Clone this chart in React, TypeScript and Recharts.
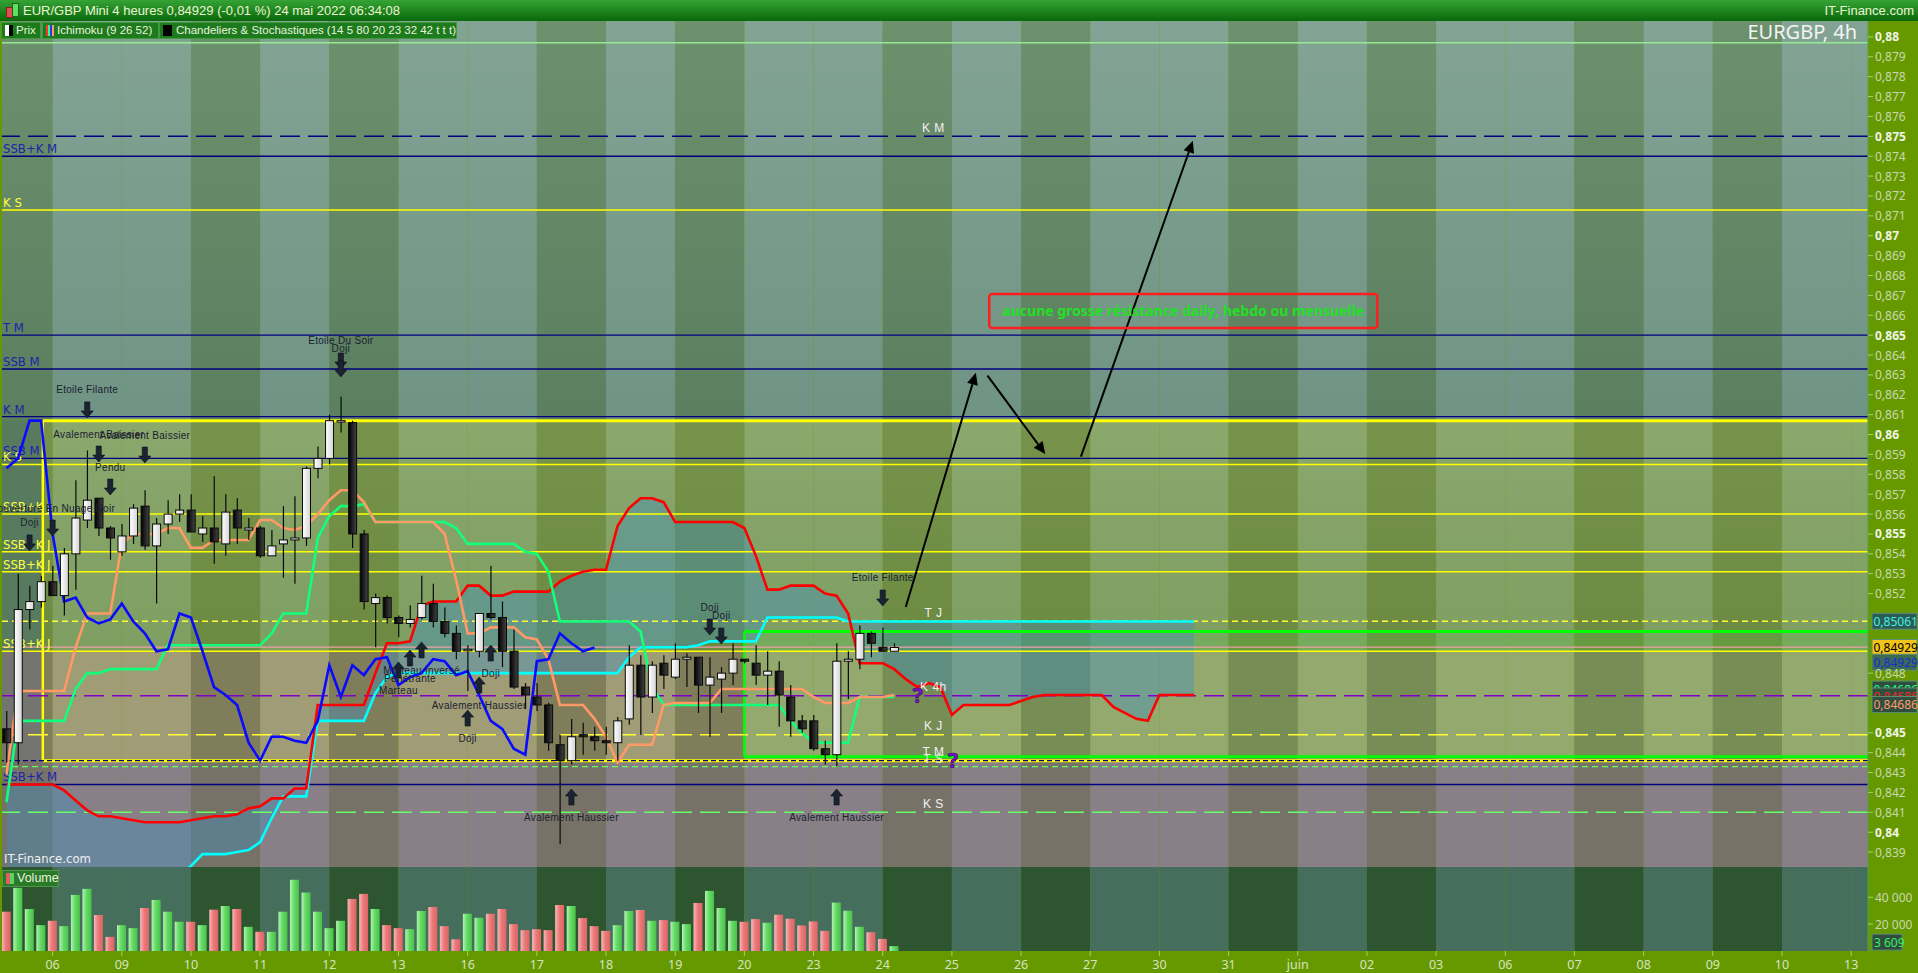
import React from 'react';
import {
  ComposedChart, Bar, Line, Area, XAxis, YAxis, ReferenceLine, ReferenceArea, ReferenceDot, Cell,
} from 'recharts';

// EUR/GBP 4h bars, bar 0 = 06 May 00:00, six bars per trading day
const firstBar = -4;

const opens = [
  0.8452, 0.8445, 0.8512, 0.8516, 0.8526, 0.8519, 0.8540, 0.8557, 0.8568, 0.8553,
  0.8541, 0.8549, 0.8564, 0.8544, 0.8555, 0.8560, 0.8562, 0.8550, 0.8553, 0.8545,
  0.8562, 0.8552, 0.8553, 0.8539, 0.8545, 0.8547, 0.8548, 0.8583, 0.8588, 0.8607,
  0.8606, 0.8550, 0.8515, 0.8518, 0.8508, 0.8505, 0.8508, 0.8515, 0.8506, 0.8500,
  0.8492, 0.8491, 0.8510, 0.8508, 0.8491, 0.8473, 0.8468, 0.8464, 0.8444, 0.8436,
  0.8449, 0.8448, 0.8446, 0.8445, 0.8457, 0.8484, 0.8468, 0.8485, 0.8478, 0.8487,
  0.8488, 0.8474, 0.8477, 0.8480, 0.8487, 0.8485, 0.8479, 0.8481, 0.8468, 0.8456,
  0.8456, 0.8442, 0.8439, 0.8486, 0.8487, 0.8500, 0.8493, 0.8491,
];
const highs = [
  0.8461, 0.8530, 0.8524, 0.8529, 0.8534, 0.8543, 0.8577, 0.8592, 0.8568, 0.8554,
  0.8555, 0.8565, 0.8572, 0.8558, 0.8567, 0.8570, 0.8570, 0.8559, 0.8579, 0.8570,
  0.8568, 0.8558, 0.8554, 0.8552, 0.8564, 0.8569, 0.8584, 0.8594, 0.8610, 0.8619,
  0.8607, 0.8552, 0.8520, 0.8519, 0.8509, 0.8514, 0.8529, 0.8525, 0.8513, 0.8504,
  0.8494, 0.8510, 0.8534, 0.8516, 0.8502, 0.8475, 0.8475, 0.8465, 0.8449, 0.8457,
  0.8455, 0.8453, 0.8453, 0.8458, 0.8494, 0.8489, 0.8486, 0.8489, 0.8495, 0.8490,
  0.8488, 0.8488, 0.8483, 0.8495, 0.8487, 0.8494, 0.8491, 0.8486, 0.8474, 0.8459,
  0.8459, 0.8446, 0.8495, 0.8491, 0.8504, 0.8501, 0.8503, 0.8495,
];
const lows = [
  0.8435, 0.8434, 0.8502, 0.8513, 0.8519, 0.8509, 0.8522, 0.8553, 0.8549, 0.8537,
  0.8539, 0.8545, 0.8542, 0.8515, 0.8550, 0.8556, 0.8551, 0.8546, 0.8535, 0.8539,
  0.8545, 0.8547, 0.8538, 0.8539, 0.8528, 0.8525, 0.8544, 0.8578, 0.8585, 0.8601,
  0.8543, 0.8512, 0.8493, 0.8505, 0.8498, 0.8503, 0.8507, 0.8503, 0.8498, 0.8487,
  0.8471, 0.8488, 0.8507, 0.8483, 0.8472, 0.8462, 0.8461, 0.8441, 0.8394, 0.8434,
  0.8439, 0.8441, 0.8439, 0.8436, 0.8454, 0.8449, 0.8460, 0.8472, 0.8477, 0.8473,
  0.8460, 0.8448, 0.8460, 0.8474, 0.8485, 0.8474, 0.8464, 0.8453, 0.8448, 0.8450,
  0.8441, 0.8434, 0.8433, 0.8467, 0.8482, 0.8488, 0.8491, 0.8491,
];
const closes = [
  0.8445, 0.8512, 0.8516, 0.8526, 0.8519, 0.8540, 0.8558, 0.8567, 0.8553, 0.8548,
  0.8549, 0.8563, 0.8544, 0.8555, 0.8560, 0.8562, 0.8551, 0.8553, 0.8546, 0.8561,
  0.8553, 0.8553, 0.8539, 0.8544, 0.8547, 0.8548, 0.8583, 0.8588, 0.8607, 0.8607,
  0.8550, 0.8516, 0.8518, 0.8508, 0.8505, 0.8507, 0.8515, 0.8506, 0.8500, 0.8491,
  0.8492, 0.8510, 0.8508, 0.8491, 0.8473, 0.8469, 0.8464, 0.8445, 0.8436, 0.8448,
  0.8448, 0.8446, 0.8445, 0.8456, 0.8484, 0.8468, 0.8484, 0.8479, 0.8487, 0.8488,
  0.8474, 0.8478, 0.8480, 0.8487, 0.8486, 0.8479, 0.8481, 0.8469, 0.8456, 0.8452,
  0.8442, 0.8439, 0.8486, 0.8487, 0.8500, 0.8495, 0.8491, 0.84929,
];
const volumes = [
  29250, 47000, 31250, 19250, 22500, 18500, 41750, 46250, 26750, 10500,
  19250, 17000, 32000, 38000, 29250, 21750, 21750, 19250, 30750, 33500,
  31250, 18000, 14250, 14250, 29250, 53000, 43500, 29250, 17000, 22500,
  38750, 42500, 31250, 19250, 17000, 16250, 29750, 32750, 18500, 8750,
  27750, 24750, 27750, 31250, 20000, 15500, 16250, 15500, 34250, 33500,
  24500, 18500, 15000, 19250, 29750, 30500, 22500, 23000, 21750, 20000,
  35750, 44750, 32000, 22500, 21750, 23750, 21000, 27000, 24000, 19000,
  22000, 15000, 36000, 30000, 18000, 14000, 9000, 3609,
];
const tenkan = [
  0.8429, 0.8471, 0.8471, 0.8471, 0.8471, 0.8471, 0.8493, 0.8510, 0.8510, 0.8510,
  0.8545, 0.8550, 0.8550, 0.8550, 0.8553, 0.8553, 0.8543, 0.8543, 0.8547, 0.8547,
  0.8547, 0.8547, 0.8557, 0.8557, 0.8553, 0.8552, 0.8554, 0.8560, 0.8567, 0.8572,
  0.8572, 0.8566, 0.8556, 0.8556, 0.8556, 0.8556, 0.8556, 0.8556, 0.8550, 0.8527,
  0.8500, 0.8500, 0.8503, 0.8503, 0.8503, 0.8498, 0.8497, 0.8487, 0.8464, 0.8464,
  0.8464, 0.8457, 0.8448, 0.8435, 0.8444, 0.8444, 0.8444, 0.8464, 0.8465, 0.8465,
  0.8465, 0.8465, 0.8472, 0.8472, 0.8472, 0.8472, 0.8472, 0.8472, 0.8472, 0.8472,
  0.8468, 0.8465, 0.8465, 0.8465, 0.8468, 0.8468, 0.8468, 0.8469,
];
const kijun = [
  0.8415, 0.8456, 0.8456, 0.8456, 0.8456, 0.8456, 0.8472, 0.8480, 0.8480, 0.8482,
  0.8482, 0.8482, 0.8482, 0.8482, 0.8494, 0.8494, 0.8494, 0.8494, 0.8494, 0.8494,
  0.8494, 0.8494, 0.8494, 0.8500, 0.8510, 0.8510, 0.8510, 0.8548, 0.8559, 0.8564,
  0.8564, 0.8565, 0.8556, 0.8556, 0.8556, 0.8556, 0.8556, 0.8556, 0.8556, 0.8553,
  0.8545, 0.8545, 0.8545, 0.8545, 0.8545, 0.8541, 0.8540, 0.8531, 0.8506, 0.8506,
  0.8506, 0.8506, 0.8506, 0.8506, 0.8506, 0.8501, 0.8473, 0.8464, 0.8464, 0.8464,
  0.8464, 0.8464, 0.8464, 0.8464, 0.8464, 0.8464, 0.8464, 0.8464, 0.8456, 0.8450,
  0.8445, 0.8445, 0.8445, 0.8445, 0.8468, 0.8468, 0.8468, 0.8468,
];
// lagging line, drawn from bar -4 to bar 47
const chikou = [
  0.8583, 0.8588, 0.8607, 0.8607, 0.8550, 0.8516, 0.8518, 0.8508, 0.8505, 0.8507,
  0.8515, 0.8506, 0.8500, 0.8491, 0.8492, 0.8510, 0.8508, 0.8491, 0.8473, 0.8469,
  0.8464, 0.8445, 0.8436, 0.8448, 0.8448, 0.8446, 0.8445, 0.8456, 0.8484, 0.8468,
  0.8484, 0.8479, 0.8487, 0.8488, 0.8474, 0.8478, 0.8480, 0.8487, 0.8486, 0.8479,
  0.8481, 0.8469, 0.8456, 0.8452, 0.8442, 0.8439, 0.8486, 0.8487, 0.8500, 0.8495,
  0.8491, 0.84929,
];
// cloud spans, bar -4 to bar 99
const ssa = [
  0.8372, 0.8372, 0.8372, 0.8372, 0.8372, 0.8372, 0.8372, 0.8372, 0.8372, 0.8372,
  0.8372, 0.8372, 0.8372, 0.8372, 0.8372, 0.8378, 0.8383, 0.8389, 0.8389, 0.8389,
  0.8390, 0.8391, 0.8395, 0.8407, 0.8418, 0.8418, 0.8418, 0.8456, 0.8456, 0.8456,
  0.8456, 0.8456, 0.8470, 0.8478, 0.8480, 0.8480, 0.8480, 0.8480, 0.8480, 0.8480,
  0.8480, 0.8480, 0.8480, 0.8480, 0.8480, 0.8480, 0.8480, 0.8480, 0.8480, 0.8480,
  0.8480, 0.8480, 0.8480, 0.8480, 0.8488, 0.8493, 0.8493, 0.8493, 0.8493, 0.8493,
  0.8494, 0.8496, 0.8496, 0.8496, 0.8496, 0.8496, 0.8508, 0.8508, 0.8508, 0.8508,
  0.8508, 0.8508, 0.8508, 0.8506, 0.8506, 0.8506, 0.8506, 0.8506, 0.8506, 0.8506,
  0.8506, 0.8506, 0.8506, 0.8506, 0.8506, 0.8506, 0.8506, 0.8506, 0.8506, 0.8506,
  0.8506, 0.8506, 0.8506, 0.8506, 0.8506, 0.8506, 0.8506, 0.8506, 0.8506, 0.8506,
  0.8506, 0.8506, 0.8506, 0.8506,
];
const ssb = [
  0.8424, 0.8424, 0.8424, 0.8424, 0.8424, 0.8421, 0.8416, 0.8411, 0.8408, 0.8408,
  0.8407, 0.8406, 0.8405, 0.8405, 0.8405, 0.8405, 0.8406, 0.8407, 0.8408, 0.8408,
  0.8409, 0.8412, 0.8413, 0.8417, 0.8417, 0.8422, 0.8422, 0.8464, 0.8464, 0.8464,
  0.8464, 0.8464, 0.8480, 0.8495, 0.8495, 0.8496, 0.8514, 0.8516, 0.8516, 0.8516,
  0.8524, 0.8524, 0.8519, 0.8519, 0.8521, 0.8521, 0.8521, 0.8521, 0.8526, 0.8529,
  0.8531, 0.8532, 0.8532, 0.8554, 0.8563, 0.8568, 0.8568, 0.8566, 0.8556, 0.8556,
  0.8556, 0.8556, 0.8556, 0.8556, 0.8553, 0.8539, 0.8522, 0.8522, 0.8524, 0.8524,
  0.8524, 0.8520, 0.8519, 0.8510, 0.8485, 0.8485, 0.8485, 0.8482, 0.8477, 0.8473,
  0.8475, 0.8473, 0.8459, 0.8464, 0.8464, 0.8464, 0.8464, 0.8464, 0.8466, 0.8468,
  0.8469, 0.8469, 0.8469, 0.8469, 0.8469, 0.8469, 0.8463, 0.8460, 0.8457, 0.8456,
  0.8469, 0.8469, 0.8469, 0.8469,
];

const dayLabels = ['06', '09', '10', '11', '12', '13', '16', '17', '18', '19', '20', '23', '24', '25',
  '26', '27', '30', '31', 'juin', '02', '03', '06', '07', '08', '09', '10', '13'];
// stripe shade per day starting with 05 May (L = light, D = dark)
const dayShade = ['D', 'L', 'L', 'D', 'L', 'D', 'L', 'L', 'D', 'L', 'D', 'L', 'L', 'D', 'L', 'D',
  'L', 'L', 'D', 'L', 'D', 'L', 'L', 'D', 'L', 'D', 'L', 'L'];
const priceTicks = [0.88, 0.879, 0.878, 0.877, 0.876, 0.875, 0.874, 0.873, 0.872, 0.871, 0.87,
  0.869, 0.868, 0.867, 0.866, 0.865, 0.864, 0.863, 0.862, 0.861, 0.86, 0.859, 0.858, 0.857,
  0.856, 0.855, 0.854, 0.853, 0.852, 0.848, 0.845, 0.844, 0.843, 0.842, 0.841, 0.84, 0.839];

const levels = [
  { p: 0.8797, kind: 'top' },
  { p: 0.875, kind: 'navyDash', mid: 'K M' },
  { p: 0.874, kind: 'navy', left: 'SSB+K M' },
  { p: 0.8713, kind: 'yellow', left: 'K S' },
  { p: 0.865, kind: 'navy', left: 'T M' },
  { p: 0.8633, kind: 'navy', left: 'SSB M' },
  { p: 0.8609, kind: 'navy', left: 'K M' },
  { p: 0.8588, kind: 'navy', left: 'SSB M' },
  { p: 0.8585, kind: 'yellow', left: 'K S' },
  { p: 0.856, kind: 'yellow', left: 'SSB+K J' },
  { p: 0.8541, kind: 'yellow', left: 'SSB+K J' },
  { p: 0.8531, kind: 'yellow', left: 'SSB+K J' },
  { p: 0.85061, kind: 'yellowDot', mid: 'T J' },
  { p: 0.84931, kind: 'pink' },
  { p: 0.8491, kind: 'yellow', left: 'SSB+K J' },
  { p: 0.84686, kind: 'purpleDash', mid: 'K 4h' },
  { p: 0.8449, kind: 'yellowDash', mid: 'K J' },
  { p: 0.8436, kind: 'navyDot', mid: 'T M' },
  { p: 0.8433, kind: 'greenDot' },
  { p: 0.8424, kind: 'navy', left: 'SSB+K M' },
  { p: 0.841, kind: 'greenDash', mid: 'K S' },
];

const patterns = [
  { n: 3, p: 0.86124, dir: 'down', text: 'Etoile Filante' },
  { n: 4, p: 0.85902, dir: 'down', text: 'Avalement Baissier' },
  { n: 8, p: 0.85897, dir: 'down', text: 'Avalement Baissier' },
  { n: 5, p: 0.85736, dir: 'down', text: 'Pendu' },
  { n: 0, p: 0.8553, dir: 'down', text: 'Couverture En Nuage Noir' },
  { n: -2, p: 0.85455, dir: 'down', text: 'Doji' },
  { n: 25, p: 0.8637, dir: 'down', text: 'Etoile Du Soir' },
  { n: 25, p: 0.8633, dir: 'down', text: 'Doji' },
  { n: 57, p: 0.85032, dir: 'down', text: 'Doji' },
  { n: 58, p: 0.84987, dir: 'down', text: 'Doji' },
  { n: 72, p: 0.85178, dir: 'down', text: 'Etoile Filante' },
  { n: 30, p: 0.84816, dir: 'up', text: 'Marteau' },
  { n: 31, p: 0.84876, dir: 'up', text: 'Pénétrante' },
  { n: 32, p: 0.84917, dir: 'up', text: 'Marteau Inversé' },
  { n: 36, p: 0.84574, dir: 'up', text: 'Doji' },
  { n: 37, p: 0.8474, dir: 'up', text: 'Avalement Haussier' },
  { n: 38, p: 0.84901, dir: 'up', text: 'Doji' },
  { n: 45, p: 0.84177, dir: 'up', text: 'Avalement Haussier' },
  { n: 68, p: 0.84177, dir: 'up', text: 'Avalement Haussier' },
];

const trendArrows = [
  { x1: 74.0, y1: 0.85133, x2: 80.08, y2: 0.86311 },
  { x1: 81.09, y1: 0.86296, x2: 86.1, y2: 0.85902 },
  { x1: 89.19, y1: 0.85889, x2: 98.9, y2: 0.87478 },
];
const questionMarks = [
  { n: 75.03, p: 0.8469 },
  { n: 78.1, p: 0.84363 },
];
const tags = [
  { p: 0.85061, text: '0,85061', color: '#3ff0e0', bg: '#2b5d55' },
  { p: 0.84929, text: '0,84929', color: '#000000', bg: '#f2c318' },
  { p: 0.84855, text: '0,84929', color: '#1a2ad8', bg: '#3b6a52' },
  { p: 0.8472, text: '0,84686', color: '#22ff88', bg: '#2e4e40' },
  { p: 0.84685, text: '0,84686', color: '#ff2020', bg: '#2e4e40' },
  { p: 0.84642, text: '0,84686', color: '#ff9966', bg: '#2e4e40' },
];

// layout
const X_MIN = -4.39;
const X_MAX = 157.46;
const P_MIN = 0.83825;
const P_MAX = 0.8808;
const BOX_LEFT = -0.85;
const BOX_TOP = 0.8607;
const BOX_BOTTOM = 0.8436;
const TAN_TOP = 0.8491;
const GREEN_LEFT = 60;
const GREEN_TOP = 0.8501;
const GREEN_BOTTOM = 0.8438;
const MID_N = 76.4;

const NARROW = "'Liberation Sans Narrow', 'DejaVu Sans Condensed', 'Liberation Sans', sans-serif";
const SANS = "'Noto Sans', 'Open Sans', sans-serif";
const ARIAL = "'Liberation Sans', Arial, sans-serif";

const levelStyle: any = {
  top: { stroke: '#93ec8f', w: 1.5 },
  navy: { stroke: '#00007f', w: 1.4 },
  navyDash: { stroke: '#00007f', w: 1.4, dash: '20 8' },
  navyDot: { stroke: '#00007f', w: 1.4, dash: '5 3' },
  yellow: { stroke: '#ffff00', w: 1.5 },
  yellowDot: { stroke: '#ffff33', w: 1.4, dash: '6 4' },
  yellowDash: { stroke: '#ffff33', w: 1.4, dash: '20 8' },
  pink: { stroke: '#f0a0a8', w: 1.3 },
  purpleDash: { stroke: '#8000c8', w: 1.6, dash: '20 8' },
  greenDot: { stroke: '#66ff66', w: 1.3, dash: '6 4' },
  greenDash: { stroke: '#66ff66', w: 1.4, dash: '20 8' },
};

const rows = ssa.map((a, i) => {
  const row: any = { n: firstBar + i, ssa: a, ssb: ssb[i] };
  if (i < opens.length) {
    row.o = opens[i]; row.h = highs[i]; row.l = lows[i]; row.c = closes[i];
    row.tenkan = tenkan[i]; row.kijun = kijun[i];
  }
  if (i < chikou.length) row.chikou = chikou[i];
  return row;
});
const volRows = volumes.map((v, i) => ({ n: firstBar + i, v, up: closes[i] >= opens[i] }));
const dayTicks = dayLabels.map((_, i) => i * 6);

function Candle(props: any) {
  const { x, y, width, height, payload } = props;
  if (!payload || payload.h == null || !isFinite(y) || !isFinite(height)) return <g />;
  const top = Math.min(y, y + height);
  const bot = Math.max(y, y + height);
  const span = payload.h - payload.l || 1e-9;
  const py = (v: number) => top + ((payload.h - v) / span) * (bot - top);
  const up = payload.c >= payload.o;
  const bTop = py(Math.max(payload.o, payload.c));
  const bBot = py(Math.min(payload.o, payload.c));
  const cx = x + width / 2;
  return (
    <g>
      <line x1={cx} x2={cx} y1={top} y2={bot} stroke="#0a0a0a" strokeWidth={1.2} />
      <rect x={x} y={bTop} width={width} height={Math.max(bBot - bTop, 1.5)}
        fill={up ? 'url(#candleUp)' : 'url(#candleDown)'} stroke="#0a0a0a" strokeWidth={1} />
    </g>
  );
}

function PatternMark(props: any) {
  const { cx, cy, dir, text } = props;
  if (!isFinite(cx) || !isFinite(cy)) return <g />;
  const s = dir === 'down' ? 1 : -1;
  const pts = [
    [cx - 2.6, cy - 8 * s], [cx + 2.6, cy - 8 * s], [cx + 2.6, cy + 1 * s], [cx + 6, cy + 1 * s],
    [cx, cy + 8 * s], [cx - 6, cy + 1 * s], [cx - 2.6, cy + 1 * s],
  ].map((q) => q.join(',')).join(' ');
  const ty = dir === 'down' ? cy - 16.5 : cy + 24;
  return (
    <g>
      <polygon points={pts} fill="#1b2331" stroke="#0c121c" strokeWidth={0.6} />
      <text x={cx} y={ty} textAnchor="middle" fill="#1b2130" fontSize={10} letterSpacing={0.3}
        fontFamily={ARIAL}>{text}</text>
    </g>
  );
}

function ArrowShape(p: any) {
  const { x1, y1, x2, y2 } = p;
  if (![x1, y1, x2, y2].every((v) => isFinite(v))) return <g />;
  const ang = Math.atan2(y2 - y1, x2 - x1);
  const L = 12;
  const W = 5.5;
  const bx = x2 - L * Math.cos(ang);
  const by = y2 - L * Math.sin(ang);
  const px = -Math.sin(ang) * W;
  const py = Math.cos(ang) * W;
  return (
    <g>
      <line x1={x1} y1={y1} x2={bx} y2={by} stroke="#000" strokeWidth={2} />
      <polygon points={`${x2},${y2} ${bx + px},${by + py} ${bx - px},${by - py}`} fill="#000" />
    </g>
  );
}

function PriceTick(props: any) {
  const { x, y, payload } = props;
  const v = payload.value as number;
  const major = Math.round(v * 1000) % 5 === 0;
  const txt = v.toFixed(3).replace(/0+$/, '').replace('.', ',');
  return (
    <text x={x} y={y + 4.5} textAnchor="start" fill={major ? '#f1f4e8' : '#c9d8b2'} fontSize={12}
      fontWeight={major ? 700 : 400} fontFamily={SANS}>{txt}</text>
  );
}

function VolTick(props: any) {
  const { x, y, payload } = props;
  return (
    <text x={x} y={y + 4.5} textAnchor="start" fill="#c9d8b2" fontSize={12} fontFamily={SANS}>
      {String(payload.value).replace(/(\d)(\d{3})$/, '$1 $2')}
    </text>
  );
}

function DayTick(props: any) {
  const { x, y, payload } = props;
  return (
    <text x={x} y={y + 11} textAnchor="middle" fill="#d6e2c2" fontSize={12.5} fontFamily={SANS}>
      {dayLabels[Math.round(payload.value / 6)]}
    </text>
  );
}

const tagLabel = (text: string, color: string, bg: string) => (props: any) => {
  const vb = props.viewBox;
  if (!vb) return null;
  const x = vb.x + vb.width + 4;
  return (
    <g>
      <rect x={x} y={vb.y - 8} width={45} height={16} fill={bg} stroke="#5f8f72" strokeWidth={1} />
      <text x={x + 1.5} y={vb.y + 4.5} fill={color} fontSize={12} fontFamily={SANS}>{text}</text>
    </g>
  );
};

const leftLabel = (text: string, color: string) => (props: any) => {
  const vb = props.viewBox;
  if (!vb) return null;
  return (
    <text x={vb.x + 1} y={vb.y - 3} fill={color} fontSize={13} fontFamily={NARROW}>{text}</text>
  );
};

function band(key: string, x1: number, x2: number, y1: number | undefined, y2: number | undefined, fill: string) {
  return (
    <ReferenceArea key={key} x1={x1} x2={x2} y1={y1} y2={y2} fill={fill} fillOpacity={1}
      stroke="none" ifOverflow="hidden" zIndex={-300} />
  );
}

export default function App() {
  const stripes: any[] = [];
  dayShade.forEach((shade, i) => {
    const d = i - 1;
    const x1 = Math.max(d * 6, X_MIN);
    const x2 = Math.min(d * 6 + 6, X_MAX);
    const L = shade === 'L';
    stripes.push(band(`a${i}`, x1, x2, BOX_TOP, P_MAX, L ? 'url(#aLight)' : 'url(#aDark)'));
    if (d === -1) {
      stripes.push(band(`lb${i}`, x1, BOX_LEFT, TAN_TOP, BOX_TOP, '#587b5f'));
      stripes.push(band(`lc${i}`, x1, BOX_LEFT, BOX_BOTTOM, TAN_TOP, '#747471'));
      stripes.push(band(`b${i}`, BOX_LEFT, x2, TAN_TOP, BOX_TOP, 'url(#bDark)'));
      stripes.push(band(`c${i}`, BOX_LEFT, x2, BOX_BOTTOM, TAN_TOP, '#7f7d5a'));
    } else {
      stripes.push(band(`b${i}`, x1, x2, TAN_TOP, BOX_TOP, L ? 'url(#bLight)' : 'url(#bDark)'));
      stripes.push(band(`c${i}`, x1, x2, BOX_BOTTOM, TAN_TOP, L ? '#a09d76' : '#7f7d5a'));
    }
    stripes.push(band(`d${i}`, x1, x2, P_MIN, BOX_BOTTOM, L ? '#888086' : '#767268'));
  });

  const volStripes = dayShade.map((shade, i) => {
    const d = i - 1;
    return (
      <ReferenceArea key={`v${i}`} x1={Math.max(d * 6, X_MIN)} x2={Math.min(d * 6 + 6, X_MAX)}
        fill={shade === 'L' ? '#466e5c' : '#2d5530'} fillOpacity={1} stroke="none"
        ifOverflow="hidden" zIndex={-300} />
    );
  });

  const seg = (key: string, a: [number, number], b: [number, number], stroke: string, w: number) => (
    <ReferenceLine key={key} segment={[{ x: a[0], y: a[1] }, { x: b[0], y: b[1] }]} stroke={stroke}
      strokeWidth={w} ifOverflow="hidden" zIndex={-210} />
  );

  return (
    <div style={{ position: 'absolute', left: 0, top: 0, width: 1918, height: 973, background: '#669900', overflow: 'hidden' }}>
      {/* title bar */}
      <div style={{
        position: 'absolute', left: 0, top: 0, width: 1918, height: 21,
        background: 'linear-gradient(#35a335, #0a680a)', color: '#eaf5d2', fontFamily: ARIAL,
        fontSize: 13, lineHeight: '21px',
      }}>
        <div style={{ position: 'absolute', left: 6, top: 7, width: 5, height: 9, background: '#e05050', border: '1px solid #802020' }} />
        <div style={{ position: 'absolute', left: 12, top: 3, width: 5, height: 12, background: '#60e060', border: '1px solid #206020' }} />
        <span style={{ position: 'absolute', left: 23 }}>EUR/GBP Mini 4 heures 0,84929 (-0,01 %) 24 mai 2022 06:34:08</span>
        <span style={{ position: 'absolute', right: 4 }}>IT-Finance.com</span>
      </div>

      <div style={{ position: 'absolute', left: 0, top: 21 }}>
        <ComposedChart width={1918} height={846} data={rows} margin={{ top: 0, right: 0, bottom: 0, left: 2 }}>
          <defs>
            <linearGradient id="aLight" x1="0" y1="0" x2="0" y2="1">
              <stop offset="0%" stopColor="#83a495" />
              <stop offset="100%" stopColor="#6f9384" />
            </linearGradient>
            <linearGradient id="aDark" x1="0" y1="0" x2="0" y2="1">
              <stop offset="0%" stopColor="#6d906d" />
              <stop offset="100%" stopColor="#5b7f5f" />
            </linearGradient>
            <linearGradient id="bLight" x1="0" y1="0" x2="0" y2="1">
              <stop offset="0%" stopColor="#8ba86d" />
              <stop offset="100%" stopColor="#7e9e62" />
            </linearGradient>
            <linearGradient id="bDark" x1="0" y1="0" x2="0" y2="1">
              <stop offset="0%" stopColor="#77934b" />
              <stop offset="100%" stopColor="#6c8a41" />
            </linearGradient>
            <linearGradient id="candleUp" x1="0" y1="0" x2="1" y2="0">
              <stop offset="0%" stopColor="#ffffff" />
              <stop offset="100%" stopColor="#d4d4d4" />
            </linearGradient>
            <linearGradient id="candleDown" x1="0" y1="0" x2="1" y2="0">
              <stop offset="0%" stopColor="#000000" />
              <stop offset="100%" stopColor="#444444" />
            </linearGradient>
          </defs>
          <XAxis dataKey="n" type="number" domain={[X_MIN, X_MAX]} allowDataOverflow hide />
          <YAxis orientation="right" width={50} type="number" domain={[P_MIN, P_MAX]} allowDataOverflow
            ticks={priceTicks} interval={0} tick={<PriceTick />} tickSize={5}
            tickLine={{ stroke: '#9fd36a' }} axisLine={{ stroke: '#4fa34f' }} />

          {stripes}

          <ReferenceArea x1={GREEN_LEFT} x2={X_MAX} y1={GREEN_BOTTOM} y2={GREEN_TOP} fill="#3cff3c"
            fillOpacity={0.13} stroke="none" ifOverflow="hidden" zIndex={-260} />

          <Area dataKey={(r: any) => [r.ssa, r.ssb]} type="linear" fill="#3f8fc0" fillOpacity={0.4}
            stroke="none" isAnimationActive={false} activeDot={false} zIndex={-250} />

          {seg('yt', [BOX_LEFT, BOX_TOP], [X_MAX, BOX_TOP], '#ffff00', 3)}
          {seg('yb', [BOX_LEFT, BOX_BOTTOM], [X_MAX, BOX_BOTTOM], '#ffff00', 3)}
          {seg('yl', [BOX_LEFT, BOX_BOTTOM], [BOX_LEFT, BOX_TOP], '#ffff00', 2.5)}
          {seg('gt', [GREEN_LEFT, GREEN_TOP], [X_MAX, GREEN_TOP], '#00ff00', 3)}
          {seg('gb', [GREEN_LEFT, GREEN_BOTTOM], [X_MAX, GREEN_BOTTOM], '#00ff00', 3)}
          {seg('gl', [GREEN_LEFT, GREEN_BOTTOM], [GREEN_LEFT, GREEN_TOP], '#00ff00', 2.5)}

          {levels.map((lv, i) => {
            const st = levelStyle[lv.kind];
            const col = lv.kind.startsWith('navy') ? '#1a24a8' : '#ffff40';
            return (
              <ReferenceLine key={`lv${i}`} y={lv.p} stroke={st.stroke} strokeWidth={st.w}
                strokeDasharray={st.dash} ifOverflow="hidden" zIndex={-200}
                label={lv.left ? leftLabel(lv.left, col) : undefined} />
            );
          })}

          <Line dataKey="ssa" type="linear" stroke="#00ffff" strokeWidth={2.6} dot={false} activeDot={false} isAnimationActive={false} zIndex={400} />
          <Line dataKey="ssb" type="linear" stroke="#ff0000" strokeWidth={2.6} dot={false} activeDot={false} isAnimationActive={false} zIndex={400} />
          <Line dataKey="kijun" type="linear" stroke="#11ff7a" strokeWidth={2.6} dot={false} activeDot={false} isAnimationActive={false} zIndex={400} />
          <Line dataKey="tenkan" type="linear" stroke="#ff9966" strokeWidth={2.6} dot={false} activeDot={false} isAnimationActive={false} zIndex={400} />
          <Line dataKey="chikou" type="linear" stroke="#0a0aff" strokeWidth={2.6} dot={false} activeDot={false} isAnimationActive={false} zIndex={400} />

          <Bar dataKey={(r: any) => (r.h == null ? null : [r.l, r.h])} barSize={8}
            shape={(p: any) => <Candle {...p} />} isAnimationActive={false} zIndex={450} />

          {patterns.map((pt, i) => (
            <ReferenceDot key={`pt${i}`} x={pt.n} y={pt.p} r={1} ifOverflow="visible" zIndex={600}
              shape={(p: any) => <PatternMark cx={p.cx} cy={p.cy} dir={pt.dir} text={pt.text} />} />
          ))}

          {levels.filter((lv) => lv.mid).map((lv, i) => (
            <ReferenceDot key={`mid${i}`} x={MID_N} y={lv.p} r={1} ifOverflow="visible" zIndex={650}
              shape={(p: any) => (
                <text x={p.cx} y={p.cy - 4.5} textAnchor="middle" fill="#f2f2f2" fontSize={12}
                  letterSpacing={0.5} fontFamily={ARIAL}>{lv.mid}</text>
              )} />
          ))}
          <ReferenceDot x={MID_N} y={BOX_BOTTOM} r={1} ifOverflow="visible" zIndex={650}
            shape={(p: any) => (
              <text x={p.cx} y={p.cy + 2} textAnchor="middle" fill="#e8e8e8" fontSize={12}
                letterSpacing={0.5} fontFamily={ARIAL}>T S</text>
            )} />
          {questionMarks.map((q, i) => (
            <ReferenceDot key={`q${i}`} x={q.n} y={q.p} r={1} ifOverflow="visible" zIndex={660}
              shape={(p: any) => (
                <text x={p.cx} y={p.cy + 8} textAnchor="middle" fill="#7a14c8" stroke="#3a0a60"
                  strokeWidth={0.6} fontSize={22} fontWeight={700} fontFamily={SANS}>?</text>
              )} />
          ))}

          {trendArrows.map((a, i) => (
            <ReferenceLine key={`ar${i}`} segment={[{ x: a.x1, y: a.y1 }, { x: a.x2, y: a.y2 }]}
              ifOverflow="visible" zIndex={700} shape={(p: any) => <ArrowShape {...p} />} />
          ))}

          <ReferenceArea x1={81.24} x2={114.9} y1={0.86536} y2={0.86707} fill="#000" fillOpacity={0}
            stroke="#ff1e1e" strokeWidth={2.5} radius={3} ifOverflow="visible" zIndex={700}
            label={(props: any) => {
              const vb = props.viewBox;
              if (!vb) return null;
              return (
                <text x={vb.x + vb.width / 2} y={vb.y + vb.height / 2 + 5} textAnchor="middle"
                  fill="#22e022" fontSize={14} fontWeight={700} fontFamily={SANS}>
                  aucune grosse résistance daily, hebdo ou mensuelle
                </text>
              );
            }} />

          {tags.map((t, i) => (
            <ReferenceLine key={`tag${i}`} y={t.p} stroke="none" zIndex={900}
              label={tagLabel(t.text, t.color, t.bg)} />
          ))}
        </ComposedChart>
      </div>

      {/* legend row */}
      <div style={{ position: 'absolute', left: 1, top: 22, width: 40, height: 17, background: '#1d7a1d', border: '1px solid #3e9c3e', boxSizing: 'border-box', color: '#e9f3dd', fontFamily: ARIAL, fontSize: 11.5, lineHeight: '15px' }}>
        <div style={{ position: 'absolute', left: 3, top: 2, width: 4, height: 11, background: '#ffffff' }} />
        <div style={{ position: 'absolute', left: 7, top: 2, width: 4, height: 11, background: '#000000' }} />
        <span style={{ position: 'absolute', left: 14 }}>Prix</span>
      </div>
      <div style={{ position: 'absolute', left: 42, top: 22, width: 117, height: 17, background: '#1d7a1d', border: '1px solid #3e9c3e', boxSizing: 'border-box', color: '#e9f3dd', fontFamily: ARIAL, fontSize: 11.5, lineHeight: '15px' }}>
        <div style={{ position: 'absolute', left: 3, top: 2, width: 2, height: 11, background: '#ff3030' }} />
        <div style={{ position: 'absolute', left: 5, top: 2, width: 2, height: 11, background: '#30ff80' }} />
        <div style={{ position: 'absolute', left: 7, top: 2, width: 2, height: 11, background: '#3030ff' }} />
        <div style={{ position: 'absolute', left: 9, top: 2, width: 2, height: 11, background: '#ff9966' }} />
        <span style={{ position: 'absolute', left: 14 }}>Ichimoku (9 26 52)</span>
      </div>
      <div style={{ position: 'absolute', left: 159, top: 22, width: 298, height: 17, background: '#1d7a1d', border: '1px solid #3e9c3e', boxSizing: 'border-box', color: '#e9f3dd', fontFamily: ARIAL, fontSize: 11.5, lineHeight: '15px' }}>
        <div style={{ position: 'absolute', left: 3, top: 2, width: 9, height: 11, background: '#000000' }} />
        <span style={{ position: 'absolute', left: 16 }}>Chandeliers &amp; Stochastiques (14 5 80 20 23 32 42 t t t)</span>
      </div>
      <div style={{ position: 'absolute', right: 61, top: 19, color: '#f3f3f3', fontFamily: SANS, fontSize: 20, lineHeight: '26px' }}>EURGBP, 4h</div>
      <div style={{ position: 'absolute', left: 4, top: 851, color: '#f0f0f0', fontFamily: NARROW, fontSize: 13 }}>IT-Finance.com</div>

      <div style={{ position: 'absolute', left: 0, top: 867 }}>
        <ComposedChart width={1918} height={106} data={volRows} margin={{ top: 0, right: 0, bottom: 0, left: 2 }}>
          <defs>
            <linearGradient id="volUp" x1="0" y1="0" x2="1" y2="0">
              <stop offset="0%" stopColor="#b2f4b2" />
              <stop offset="45%" stopColor="#66da66" />
              <stop offset="100%" stopColor="#48c248" />
            </linearGradient>
            <linearGradient id="volDown" x1="0" y1="0" x2="1" y2="0">
              <stop offset="0%" stopColor="#f8b8b8" />
              <stop offset="45%" stopColor="#ec7a7a" />
              <stop offset="100%" stopColor="#dc6464" />
            </linearGradient>
          </defs>
          <XAxis dataKey="n" type="number" domain={[X_MIN, X_MAX]} allowDataOverflow ticks={dayTicks}
            interval={0} height={22} tickSize={5} axisLine={false} tickLine={{ stroke: '#9fd36a' }}
            tick={<DayTick />} />
          <YAxis orientation="right" width={50} type="number" domain={[0, 62500]} allowDataOverflow
            ticks={[20000, 40000]} interval={0} tick={<VolTick />} tickSize={5}
            tickLine={{ stroke: '#9fd36a' }} axisLine={{ stroke: '#4fa34f' }} />
          {volStripes}
          <Bar dataKey="v" barSize={9} isAnimationActive={false} zIndex={300}>
            {volRows.map((r, i) => (
              <Cell key={i} fill={r.up ? 'url(#volUp)' : 'url(#volDown)'} />
            ))}
          </Bar>
          <ReferenceLine y={3609} stroke="none" zIndex={900}
            label={(props: any) => {
              const vb = props.viewBox;
              if (!vb) return null;
              const x = vb.x + vb.width + 4;
              return (
                <g>
                  <rect x={x} y={vb.y - 12} width={30} height={16} fill="#2e4e40" stroke="#5f8f72" />
                  <text x={x + 2} y={vb.y + 0.5} fill="#3ff060" fontSize={12} fontFamily={SANS}>3 609</text>
                </g>
              );
            }} />
        </ComposedChart>
      </div>
      <div style={{ position: 'absolute', left: 2, top: 870, width: 57, height: 17, background: '#2a7a2a', border: '1px solid #4a9a4a', boxSizing: 'border-box', color: '#e9f3dd', fontFamily: ARIAL, fontSize: 12.5, lineHeight: '15px' }}>
        <div style={{ position: 'absolute', left: 3, top: 2, width: 4, height: 11, background: '#e06060' }} />
        <div style={{ position: 'absolute', left: 7, top: 2, width: 4, height: 11, background: '#60d060' }} />
        <span style={{ position: 'absolute', left: 14 }}>Volume</span>
      </div>
    </div>
  );
}
